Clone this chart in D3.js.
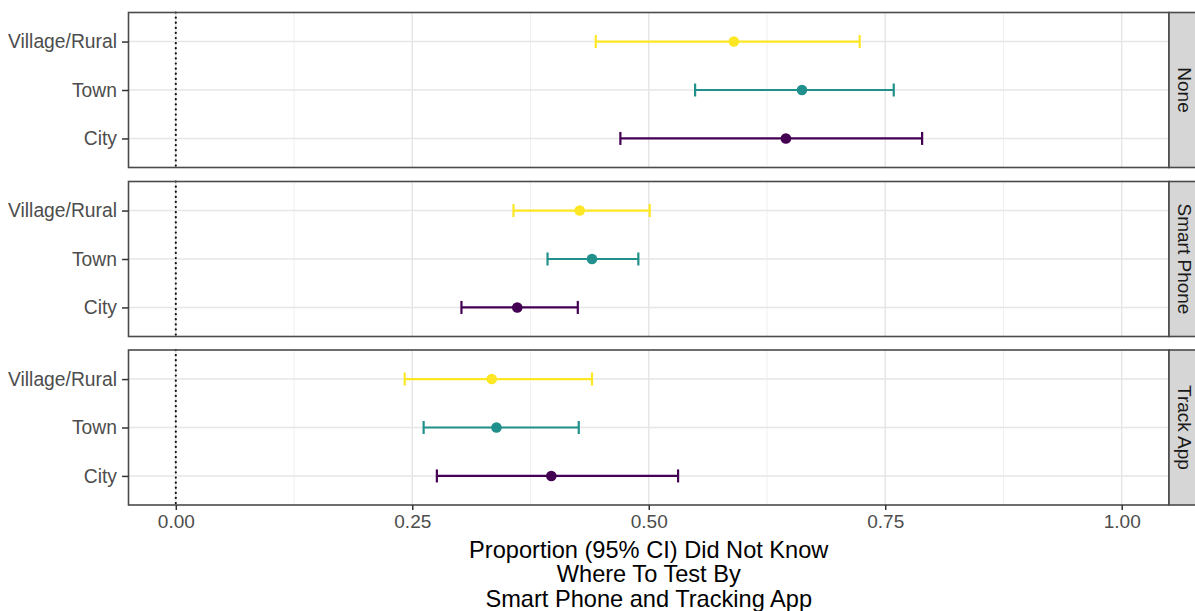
<!DOCTYPE html>
<html><head><meta charset="utf-8">
<script src="https://cdn.jsdelivr.net/npm/d3@7"></script>
<style>body{margin:0;background:#fff}svg{display:block;font-family:"Liberation Sans",Arial,sans-serif}</style>
</head><body><svg id="c" width="1195" height="611"></svg>
<script>
const panels = ["None", "Smart Phone", "Track App"];
const categories = ["City", "Town", "Village/Rural"];
const colors = ["#440154", "#21908C", "#FDE725"];
// per panel: values for City, Town, Village/Rural
const estimate = [[0.645, 0.662, 0.590], [0.361, 0.440, 0.427], [0.397, 0.339, 0.334]];
const lower    = [[0.470, 0.549, 0.444], [0.302, 0.393, 0.357], [0.276, 0.262, 0.242]];
const upper    = [[0.789, 0.759, 0.723], [0.425, 0.489, 0.501], [0.531, 0.426, 0.440]];
const xTicks = [0, 0.25, 0.5, 0.75, 1.0];
const xMinor = [0.125, 0.375, 0.625, 0.875];
const xTickLabels = ["0.00", "0.25", "0.50", "0.75", "1.00"];
const titleLines = ["Proportion (95% CI) Did Not Know", "Where To Test By", "Smart Phone and Tracking App"];

const svg = d3.select("#c");
const L = 128.5, R = 1169, stripR = 1195;
const panelTops = [12.5, 181.5, 350];
const panelH = 155;
const x = d3.scaleLinear().domain([-0.05, 1.05]).range([L, R]);

panels.forEach((p, pi) => {
  const top = panelTops[pi];
  const y = d3.scalePoint().domain(categories).range([top + panelH, top]).padding(0.6);
  const g = svg.append("g");
  g.selectAll(".mn").data(xMinor).join("line")
    .attr("x1", d => x(d)).attr("x2", d => x(d)).attr("y1", top).attr("y2", top + panelH)
    .attr("stroke", "#EFEFEF").attr("stroke-width", 1);
  g.selectAll(".mj").data(xTicks).join("line")
    .attr("x1", d => x(d)).attr("x2", d => x(d)).attr("y1", top).attr("y2", top + panelH)
    .attr("stroke", "#E6E6E6").attr("stroke-width", 1.5);
  g.selectAll(".hy").data(categories).join("line")
    .attr("x1", L).attr("x2", R).attr("y1", d => y(d)).attr("y2", d => y(d))
    .attr("stroke", "#E6E6E6").attr("stroke-width", 1.5);
  g.append("line").attr("x1", x(0)).attr("x2", x(0)).attr("y1", top).attr("y2", top + panelH)
    .attr("stroke", "#111").attr("stroke-width", 2.2).attr("stroke-linecap", "round").attr("stroke-dasharray", "0.1,5");
  categories.forEach((c, ci) => {
    const yy = y(c), col = colors[ci];
    g.append("line").attr("x1", x(lower[pi][ci])).attr("x2", x(upper[pi][ci])).attr("y1", yy).attr("y2", yy)
      .attr("stroke", col).attr("stroke-width", 2.2);
    [lower[pi][ci], upper[pi][ci]].forEach(v => {
      g.append("line").attr("x1", x(v)).attr("x2", x(v)).attr("y1", yy - 6.5).attr("y2", yy + 6.5)
        .attr("stroke", col).attr("stroke-width", 2.2);
    });
    g.append("circle").attr("cx", x(estimate[pi][ci])).attr("cy", yy).attr("r", 5.3).attr("fill", col);
  });
  g.append("rect").attr("x", L).attr("y", top).attr("width", R - L).attr("height", panelH)
    .attr("fill", "none").attr("stroke", "#4a4a4a").attr("stroke-width", 1.6);
  g.append("rect").attr("x", R).attr("y", top).attr("width", stripR - R + 2).attr("height", panelH)
    .attr("fill", "#D6D6D6").attr("stroke", "#4a4a4a").attr("stroke-width", 1.6);
  g.append("text").attr("transform", `translate(${R + 16},${top + panelH / 2}) rotate(90)`)
    .attr("text-anchor", "middle").attr("dy", "0.35em").attr("fill", "#1A1A1A")
    .style("font-size", "19px").text(p);
  const ya = d3.axisLeft(y).tickSize(6.5).tickPadding(5);
  const ag = g.append("g").attr("transform", `translate(${L},0)`).call(ya);
  ag.select(".domain").remove();
  ag.selectAll(".tick line").attr("stroke", "#333").attr("stroke-width", 1.5);
  ag.selectAll(".tick text").attr("fill", "#4D4D4D").style("font-size", "19.3px").style("font-family", "Liberation Sans, Arial, sans-serif");
});

const bottom = panelTops[2] + panelH;
const xa = d3.axisBottom(x).tickValues(xTicks).tickFormat((d, i) => xTickLabels[i]).tickSize(5).tickPadding(5);
const xg = svg.append("g").attr("transform", `translate(0,${bottom})`).call(xa);
xg.select(".domain").remove();
xg.selectAll(".tick line").attr("stroke", "#333").attr("stroke-width", 1.5);
xg.selectAll(".tick text").attr("fill", "#4D4D4D").style("font-size", "19px").style("font-family", "Liberation Sans, Arial, sans-serif");

const cx = (L + R) / 2;
svg.append("text").attr("x", cx).attr("y", 558).attr("text-anchor", "middle")
  .style("font-size", "23.6px").attr("fill", "#000")
  .selectAll("tspan").data(titleLines).join("tspan")
  .attr("x", cx).attr("dy", (d, i) => i === 0 ? 0 : 24.3).text(d => d);
</script></body></html>
